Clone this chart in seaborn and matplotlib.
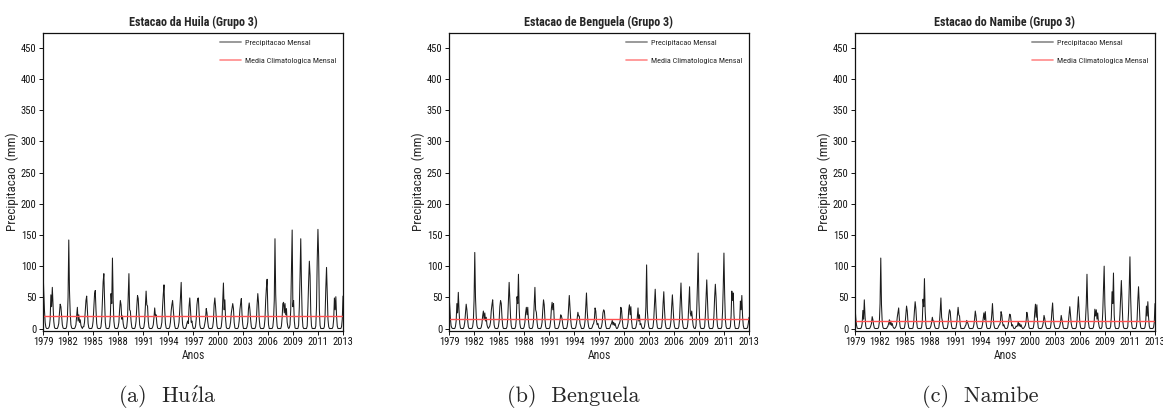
import numpy as np
import pandas as pd
import matplotlib
matplotlib.use("Agg")
import matplotlib.pyplot as plt
from matplotlib.lines import Line2D
from matplotlib import font_manager as fm
import seaborn as sns

# Monthly precipitation (mm), one row per year 1979-2013, columns Jan..Dec
huila = [
    [99, 60, 30, 10, 2, 0, 0, 0, 1, 4, 15, 54],
    [35, 66, 40, 12, 2, 0, 0, 0, 0, 3, 8, 25],
    [39, 35, 20, 6, 1, 0, 0, 0, 0, 3, 15, 50],
    [142, 60, 25, 6, 1, 0, 0, 0, 0, 2, 6, 20],
    [34, 12, 22, 10, 14, 5, 2, 0, 3, 3, 10, 28],
    [45, 52, 30, 8, 1, 0, 0, 0, 0, 3, 12, 35],
    [55, 61, 30, 8, 1, 0, 0, 0, 0, 3, 15, 45],
    [75, 88, 45, 10, 1, 0, 0, 0, 0, 4, 18, 56],
    [40, 113, 45, 12, 2, 0, 0, 0, 0, 3, 10, 30],
    [45, 38, 15, 20, 8, 2, 0, 0, 0, 3, 15, 50],
    [88, 30, 28, 12, 2, 0, 0, 0, 0, 3, 12, 35],
    [53, 48, 25, 6, 1, 0, 0, 0, 0, 3, 12, 35],
    [60, 38, 36, 12, 2, 0, 0, 0, 0, 2, 6, 18],
    [33, 20, 22, 8, 1, 0, 0, 0, 0, 3, 10, 35],
    [55, 70, 30, 8, 1, 0, 0, 0, 0, 3, 10, 28],
    [38, 45, 30, 15, 4, 0, 0, 0, 0, 3, 10, 30],
    [50, 74, 25, 6, 1, 0, 0, 0, 3, 8, 12, 8],
    [35, 49, 30, 10, 12, 4, 0, 0, 0, 3, 15, 38],
    [48, 49, 25, 6, 1, 0, 0, 0, 0, 2, 8, 15],
    [32, 25, 12, 3, 0, 0, 0, 0, 0, 3, 12, 38],
    [49, 35, 18, 4, 0, 0, 0, 0, 0, 3, 15, 45],
    [73, 30, 46, 15, 2, 0, 0, 0, 0, 3, 10, 25],
    [32, 40, 32, 10, 1, 0, 0, 0, 0, 3, 12, 30],
    [40, 48, 22, 6, 0, 0, 0, 0, 0, 3, 10, 32],
    [41, 30, 14, 3, 0, 0, 0, 0, 0, 3, 12, 38],
    [56, 42, 15, 3, 0, 0, 0, 0, 0, 3, 15, 45],
    [65, 79, 30, 6, 0, 0, 0, 0, 0, 3, 15, 45],
    [144, 55, 20, 4, 0, 0, 0, 0, 0, 4, 18, 40],
    [42, 25, 40, 22, 32, 10, 3, 0, 1, 6, 30, 95],
    [158, 35, 45, 12, 1, 0, 0, 0, 0, 5, 35, 85],
    [144, 70, 20, 3, 0, 0, 0, 0, 0, 4, 35, 75],
    [108, 85, 25, 4, 0, 0, 0, 0, 0, 4, 35, 110],
    [159, 115, 30, 5, 0, 0, 0, 0, 0, 3, 22, 65],
    [98, 55, 15, 3, 0, 0, 0, 0, 0, 3, 15, 49],
    [30, 51, 20, 4, 0, 0, 0, 0, 0, 3, 15, 52],
]

benguela = [
    [57, 35, 15, 4, 1, 0, 0, 0, 0, 3, 12, 40],
    [25, 58, 30, 8, 1, 0, 0, 0, 0, 3, 10, 25],
    [39, 30, 14, 3, 0, 0, 0, 0, 0, 3, 12, 45],
    [122, 50, 20, 5, 1, 0, 0, 0, 0, 2, 8, 20],
    [28, 15, 25, 12, 18, 6, 2, 0, 2, 4, 10, 28],
    [38, 46, 25, 6, 1, 0, 0, 0, 0, 3, 12, 35],
    [45, 40, 18, 4, 0, 0, 0, 0, 0, 3, 15, 45],
    [74, 48, 18, 4, 0, 0, 0, 0, 0, 3, 15, 51],
    [40, 87, 32, 8, 1, 0, 0, 0, 0, 3, 10, 25],
    [34, 22, 34, 12, 2, 0, 0, 0, 0, 3, 12, 38],
    [66, 30, 26, 10, 1, 0, 0, 0, 0, 3, 10, 30],
    [46, 38, 15, 3, 0, 0, 0, 0, 0, 3, 12, 32],
    [42, 30, 40, 12, 1, 0, 0, 0, 0, 2, 6, 12],
    [22, 20, 15, 5, 0, 0, 0, 0, 0, 3, 12, 32],
    [53, 32, 14, 3, 0, 0, 0, 0, 0, 2, 8, 16],
    [26, 20, 20, 8, 4, 0, 0, 0, 0, 3, 12, 35],
    [57, 28, 12, 3, 0, 0, 0, 0, 2, 6, 8, 14],
    [33, 28, 12, 6, 8, 2, 0, 0, 0, 3, 10, 25],
    [30, 28, 14, 4, 0, 0, 0, 0, 0, 2, 6, 8],
    [13, 6, 10, 5, 8, 3, 0, 0, 2, 6, 8, 12],
    [34, 30, 14, 3, 0, 0, 0, 0, 0, 3, 10, 30],
    [38, 22, 35, 12, 1, 0, 0, 0, 0, 2, 8, 18],
    [33, 12, 22, 6, 8, 3, 0, 0, 0, 3, 12, 35],
    [102, 30, 12, 3, 0, 0, 0, 0, 0, 3, 15, 38],
    [63, 35, 12, 2, 0, 0, 0, 0, 0, 3, 15, 40],
    [59, 30, 10, 2, 0, 0, 0, 0, 0, 3, 12, 35],
    [54, 32, 12, 3, 0, 0, 0, 0, 0, 3, 15, 45],
    [73, 38, 12, 3, 0, 0, 0, 0, 0, 3, 15, 42],
    [67, 25, 20, 28, 15, 5, 1, 0, 0, 5, 30, 70],
    [121, 45, 15, 3, 0, 0, 0, 0, 0, 3, 20, 50],
    [78, 48, 14, 3, 0, 0, 0, 0, 0, 3, 20, 50],
    [71, 50, 18, 4, 0, 0, 0, 0, 0, 3, 25, 65],
    [121, 55, 14, 3, 0, 0, 0, 0, 0, 3, 20, 60],
    [45, 57, 22, 5, 0, 0, 0, 0, 0, 3, 12, 44],
    [30, 53, 20, 5, 0, 0, 0, 0, 0, 2, 8, 18],
]

namibe = [
    [37, 18, 6, 1, 0, 0, 0, 0, 0, 2, 8, 29],
    [15, 46, 20, 4, 0, 0, 0, 0, 0, 1, 4, 8],
    [19, 14, 6, 1, 0, 0, 0, 0, 0, 2, 10, 40],
    [113, 38, 10, 2, 0, 0, 0, 0, 0, 2, 4, 8],
    [14, 6, 12, 5, 8, 3, 1, 0, 1, 3, 6, 18],
    [25, 33, 14, 3, 0, 0, 0, 0, 0, 1, 8, 22],
    [36, 28, 10, 2, 0, 0, 0, 0, 0, 1, 10, 28],
    [43, 32, 12, 2, 0, 0, 0, 0, 0, 2, 12, 47],
    [35, 80, 28, 6, 0, 0, 0, 0, 0, 1, 4, 10],
    [18, 12, 12, 5, 1, 0, 0, 0, 0, 1, 10, 28],
    [49, 18, 12, 4, 0, 0, 0, 0, 0, 1, 8, 22],
    [30, 27, 12, 3, 0, 0, 0, 0, 0, 1, 8, 22],
    [34, 22, 20, 6, 0, 0, 0, 0, 0, 1, 4, 6],
    [13, 10, 7, 2, 0, 0, 0, 0, 0, 1, 6, 15],
    [28, 20, 8, 2, 0, 0, 0, 0, 0, 1, 6, 15],
    [25, 14, 27, 10, 2, 0, 0, 0, 0, 1, 8, 22],
    [40, 18, 6, 1, 0, 0, 0, 0, 2, 5, 6, 10],
    [27, 22, 10, 4, 6, 2, 0, 0, 0, 1, 6, 15],
    [23, 22, 12, 4, 6, 2, 0, 0, 1, 4, 3, 5],
    [11, 4, 8, 3, 6, 2, 0, 0, 1, 3, 5, 12],
    [26, 20, 10, 2, 0, 0, 0, 0, 0, 1, 8, 25],
    [39, 18, 38, 12, 1, 0, 0, 0, 0, 1, 4, 10],
    [21, 16, 7, 2, 0, 0, 0, 0, 0, 1, 10, 28],
    [41, 18, 7, 2, 0, 0, 0, 0, 0, 1, 4, 10],
    [21, 14, 6, 1, 0, 0, 0, 0, 0, 1, 10, 22],
    [35, 22, 8, 2, 0, 0, 0, 0, 0, 2, 12, 32],
    [51, 28, 10, 2, 0, 0, 0, 0, 0, 2, 15, 40],
    [87, 35, 10, 2, 0, 0, 0, 0, 0, 2, 10, 31],
    [20, 30, 15, 25, 10, 3, 0, 0, 0, 3, 25, 60],
    [100, 38, 12, 2, 0, 0, 0, 0, 0, 3, 18, 59],
    [40, 89, 22, 4, 0, 0, 0, 0, 0, 3, 22, 50],
    [77, 45, 12, 2, 0, 0, 0, 0, 0, 3, 25, 65],
    [115, 50, 12, 2, 0, 0, 0, 0, 0, 3, 15, 45],
    [67, 38, 12, 2, 0, 0, 0, 0, 0, 2, 10, 36],
    [20, 43, 18, 4, 0, 0, 0, 0, 0, 2, 10, 40],
]

# Climatological monthly mean (mm) for each station
clim_mean = [19.5, 15.0, 12.0]

stations = ["Estacao da Huila (Grupo 3)",
            "Estacao de Benguela (Grupo 3)",
            "Estacao do Namibe (Grupo 3)"]
captions = [r"(a)  Hu$\acute{\imath}$la", "(b)  Benguela", "(c)  Namibe"]
legend_labels = ["Precipitacao Mensal", "Media Climatologica Mensal"]
year_labels = ["1979", "1982", "1985", "1988", "1991", "1994", "1997",
               "2000", "2003", "2006", "2009", "2011", "2013"]
y_ticks = [0, 50, 100, 150, 200, 250, 300, 350, 400, 450]


def installed(name):
    try:
        fm.findfont(fm.FontProperties(family=name), fallback_to_default=False)
        return True
    except Exception:
        return False


# A narrow sans face suits the small axis lettering; otherwise shrink Roboto
narrow = next((f for f in ["Liberation Sans Narrow", "DejaVu Sans Condensed",
                           "Roboto Condensed"] if installed(f)), None)
base_font = narrow if narrow else "Roboto"
k = 1.0 if narrow else 0.84

sns.set_theme(style="ticks")
plt.rcParams["font.family"] = [base_font, "DejaVu Sans"]
plt.rcParams["mathtext.fontset"] = "cm"

W, H = 1163, 408
fig = plt.figure(figsize=(W / 100, H / 100), dpi=100)

lefts = [43, 449, 855]
cap_x = [167, 573, 980]
ax_w, ax_top, ax_bot = 300, 33, 331

for i, series in enumerate([huila, benguela, namibe]):
    vals = np.array(series, dtype=float).ravel()
    df = pd.DataFrame({"mes": np.arange(len(vals)), "prec": vals})
    ax = fig.add_axes([lefts[i] / W, 1 - ax_bot / H, ax_w / W,
                       (ax_bot - ax_top) / H])

    sns.lineplot(data=df, x="mes", y="prec", ax=ax, color="#1c1c1c",
                 linewidth=0.75, legend=False)
    ax.axhline(clim_mean[i], color="#ff5050", linewidth=1.0)

    n = len(vals) - 1
    ax.set_xlim(0, n)
    ax.set_ylim(-4, 474)
    ax.set_xticks(np.linspace(0, n, len(year_labels)))
    ax.set_xticklabels(year_labels)
    ax.set_yticks(y_ticks)
    ax.tick_params(axis="both", labelsize=7.6 * k, length=2.8, width=0.7,
                   pad=1.8, colors="#111111", direction="out")
    for sp in ax.spines.values():
        sp.set_linewidth(0.9)
        sp.set_color("#111111")
    ax.set_xlabel("Anos", fontsize=8.4 * k, labelpad=1.5)
    ax.set_ylabel("Precipitacao  (mm)", fontsize=9.4 * k, labelpad=1.5)
    ax.set_title(stations[i], fontsize=8.7 * k, fontweight="bold", pad=5)

    handles = [Line2D([], [], color="#9a9a9a", linewidth=1.4),
               Line2D([], [], color="#ff8a8a", linewidth=1.2)]
    ax.legend(handles, legend_labels, loc="upper left",
              bbox_to_anchor=(0.575, 0.995), frameon=False,
              fontsize=5.9 * k, handlelength=2.5, handletextpad=0.55,
              labelspacing=1.3, borderaxespad=0.3, borderpad=0.3)

    fig.text(cap_x[i] / W, 1 - 397 / H, captions[i], ha="center",
             va="center", fontsize=16, family=["cmr10", "DejaVu Serif"])

fig.savefig("out.png", dpi=100)
